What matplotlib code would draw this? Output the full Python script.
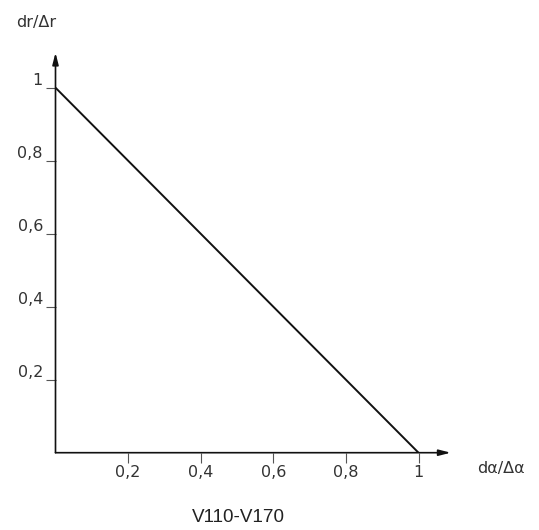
import matplotlib
matplotlib.use("Agg")
import matplotlib.pyplot as plt

# data
x_vals = [0.0, 1.0]
y_vals = [1.0, 0.0]
x_ticks = [0.2, 0.4, 0.6, 0.8, 1.0]
x_tick_labels = ["0,2", "0,4", "0,6", "0,8", "1"]
y_ticks = [0.2, 0.4, 0.6, 0.8, 1.0]
y_tick_labels = ["0,2", "0,4", "0,6", "0,8", "1"]
x_label = "dα/Δα"
y_label = "dr/Δr"
title = "V110-V170"

W, H = 539, 530
fig = plt.figure(figsize=(W / 100, H / 100), dpi=100)
x0, y0 = 55.5, 452.7
xt, yt = 450.7, 52.7
ax = fig.add_axes([x0 / W, (H - y0) / H, (xt - x0) / W, (y0 - yt) / H])
xmax = (xt - x0) / 363.0
ymax = (y0 - yt) / 365.0
ax.set_xlim(0, xmax)
ax.set_ylim(0, ymax)

ax.plot(x_vals, y_vals, color="#111111", lw=1.4, solid_capstyle="butt")

for s in ax.spines.values():
    s.set_visible(False)
ax.annotate("", xy=(xmax, 0), xytext=(0, 0), xycoords="data",
            arrowprops=dict(arrowstyle="-|>,head_length=0.7,head_width=0.18",
                            color="#111111", lw=1.2, shrinkA=0, shrinkB=0),
            annotation_clip=False)
ax.annotate("", xy=(0, ymax), xytext=(0, 0), xycoords="data",
            arrowprops=dict(arrowstyle="-|>,head_length=0.7,head_width=0.18",
                            color="#111111", lw=1.2, shrinkA=0, shrinkB=0),
            annotation_clip=False)

font = "DejaVu Sans"
ax.set_xticks(x_ticks)
ax.set_xticklabels(x_tick_labels, fontsize=11.5, color="#333333", family=font)
ax.set_yticks(y_ticks)
ax.set_yticklabels(y_tick_labels, fontsize=11.5, color="#333333", family=font)
ax.tick_params(axis="x", direction="out", length=7, width=0.8, color="#555555", pad=2)
ax.tick_params(axis="y", direction="out", length=7, width=0.8, color="#555555", pad=2)
for lab in ax.get_yticklabels():
    lab.set_va("bottom")

fig.text(36 / W, 1 - 22 / H, y_label, ha="center", va="center",
         fontsize=11.5, color="#333333", family=font)
fig.text(501 / W, 1 - 468 / H, x_label, ha="center", va="center",
         fontsize=11.5, color="#333333", family=font)
fig.text(238 / W, 1 - 517 / H, title, ha="center", va="center",
         fontsize=13.6, color="#222222", family=["Liberation Sans Narrow", "Liberation Sans", "DejaVu Sans"])

fig.savefig("out.png", dpi=100, facecolor="white")
